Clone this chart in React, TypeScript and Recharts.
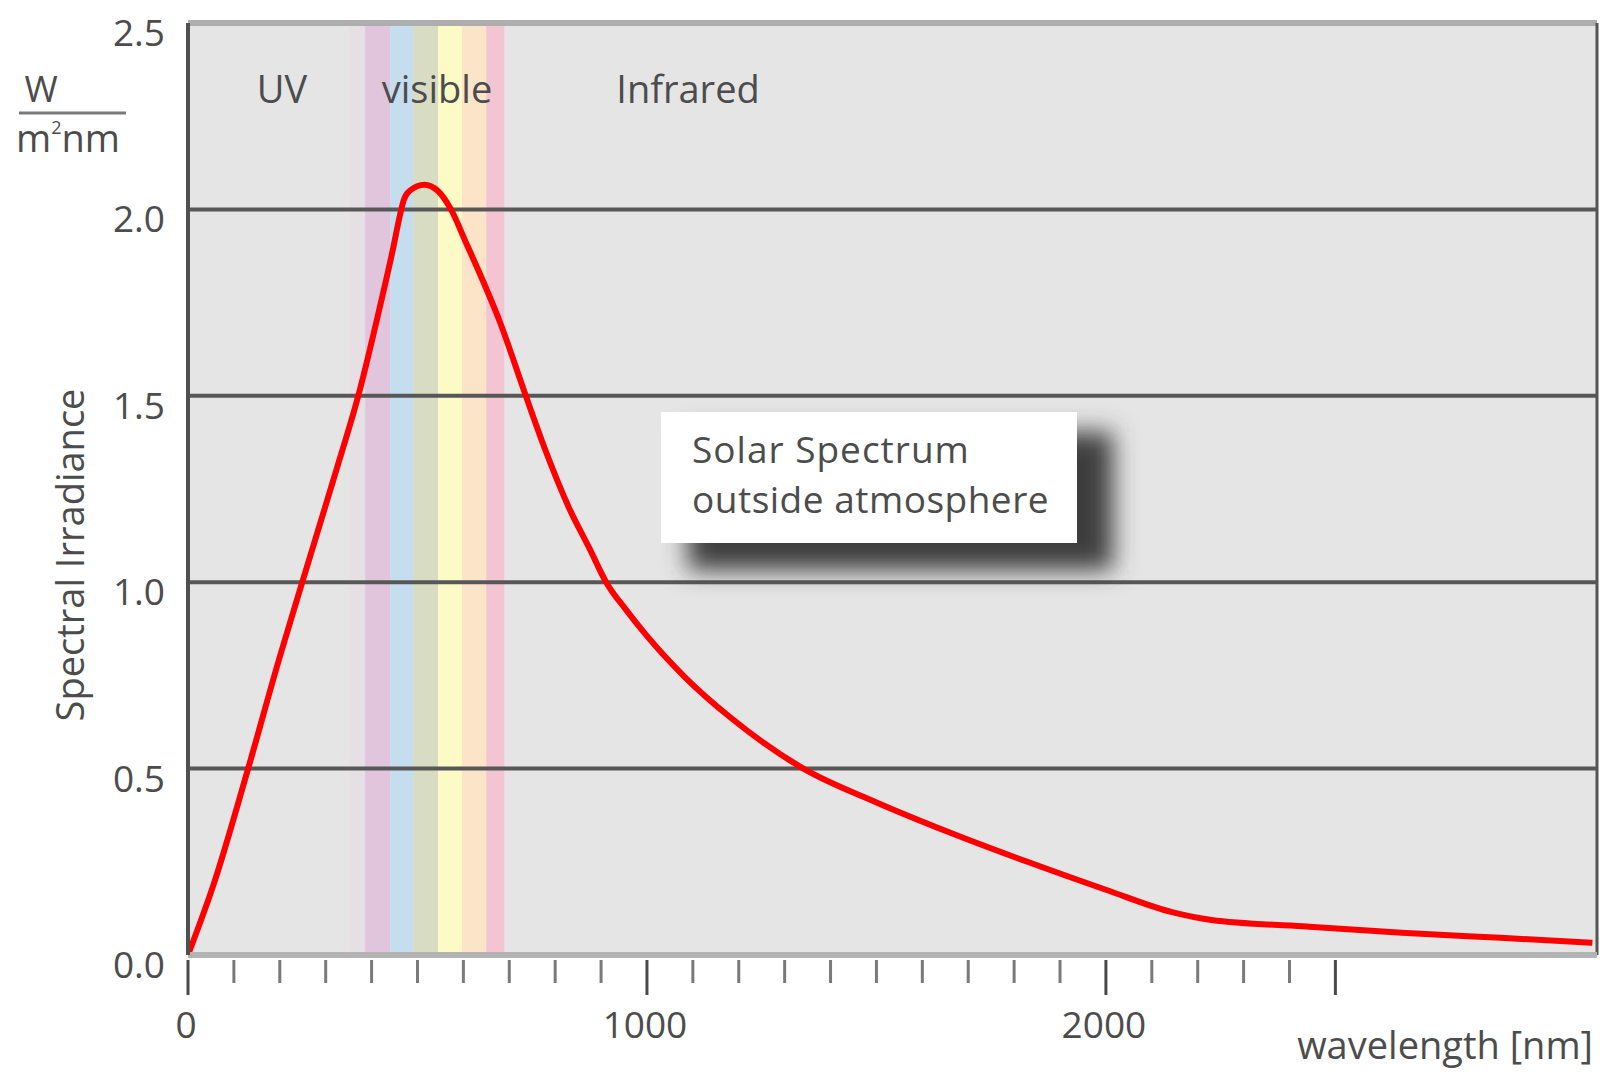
import React from 'react';
import { LineChart, Line, XAxis, YAxis, ReferenceArea, ReferenceLine } from 'recharts';

// ---- data ----
const wavelengths = [0, 56, 131, 200, 249, 323, 371, 424, 446, 461, 470, 483, 515, 544, 573, 606, 642, 679, 736, 780, 830, 875, 911, 955, 997, 1083, 1184, 1341, 1499, 1657, 1829, 2000, 2144, 2230, 2430, 2645, 2860, 3060];
const irradiance = [0, 0.19, 0.5, 0.8, 1.0, 1.3, 1.5, 1.77, 1.89, 1.98, 2.025, 2.05, 2.066, 2.05, 2.0, 1.91, 1.81, 1.7, 1.5, 1.35, 1.2, 1.09, 1.0, 0.925, 0.86, 0.745, 0.635, 0.5, 0.41, 0.33, 0.25, 0.175, 0.115, 0.094, 0.077, 0.06, 0.046, 0.033];

const visibleBandStart = [386, 441, 491, 545, 597, 650];
const visibleBandEnd = [441, 491, 545, 597, 650, 689];
const faintBandStart = [352, 689];
const faintBandEnd = [386, 704];

const xTicks = [0, 100, 200, 300, 400, 500, 600, 700, 800, 900, 1000, 1100, 1200, 1300, 1400, 1500, 1600, 1700, 1800, 1900, 2000, 2100, 2200, 2300, 2400, 2500];
const xMajorTicks = [0, 1000, 2000, 2500];
const xLabelTicks = [0, 1000, 2000];
const yTicks = [0, 0.5, 1.0, 1.5, 2.0, 2.5];
const gridValues = [0.5, 1.0, 1.5, 2.0];
const xMax = 3070;
const yMax = 2.5;

const regionLabels = ['UV', 'visible', 'Infrared'];
const calloutLines = ['Solar Spectrum', 'outside atmosphere'];

// ---- styles ----
const bandColors = ['#E0C5DC', '#C5DEEF', '#D8DCC2', '#FDFBC5', '#FCE4C8', '#F3C5D3'];
const faintColors = ['#E6E0E4', '#E8E3E8'];
const FONT = '"Open Sans", "DejaVu Sans", sans-serif';
const TEXT = '#4c4c4c';

const data = wavelengths.map((nm, i) => ({ nm, irr: irradiance[i] }));
const gridData = gridValues.map((g) => [{ nm: 0, v: g }, { nm: xMax, v: g }]);

const XTick = (props: any) => {
  const { x, y, payload } = props;
  const v = payload.value;
  const major = xMajorTicks.includes(v);
  return (
    <g>
      <line x1={x} x2={x} y1={y + 5} y2={y + (major ? 40 : 28)} stroke={major ? '#4a4a4a' : '#7a7a7a'} strokeWidth={3} />
      {xLabelTicks.includes(v) && (
        <text x={x - 2} y={y + 83} textAnchor="middle" fontFamily={FONT} fontSize={37} fill={TEXT}>
          {v}
        </text>
      )}
    </g>
  );
};

const YTick = (props: any) => {
  const { x, y, payload } = props;
  return (
    <text x={x} y={y + 23} textAnchor="end" fontFamily={FONT} fontSize={37} fill={TEXT}>
      {payload.value.toFixed(1)}
    </text>
  );
};

export default function App() {
  return (
    <div style={{ position: 'absolute', left: 0, top: 0, width: 1612, height: 1075, background: '#ffffff' }}>
      <div style={{ position: 'absolute', left: 0, top: 0 }}>
        <LineChart width={1612} height={1075} data={data} margin={{ top: 23, right: 15, bottom: 0, left: 0 }}>
          <ReferenceArea x1={0} x2={xMax} y1={0} y2={yMax} fill="#e5e5e5" fillOpacity={1} stroke="none" />
          {faintBandStart.map((s, i) => (
            <ReferenceArea key={'f' + i} x1={s} x2={faintBandEnd[i]} y1={0} y2={yMax} fill={faintColors[i]} fillOpacity={1} stroke="none" />
          ))}
          {visibleBandStart.map((s, i) => (
            <ReferenceArea key={'b' + i} x1={s} x2={visibleBandEnd[i]} y1={0} y2={yMax} fill={bandColors[i]} fillOpacity={1} stroke="none" />
          ))}
          <ReferenceLine y={yMax} stroke="#adadad" strokeWidth={6} />
          <ReferenceLine x={xMax} stroke="#555555" strokeWidth={3} />
          <XAxis
            dataKey="nm"
            type="number"
            domain={[0, xMax]}
            ticks={xTicks}
            interval={0}
            tickSize={0}
            tickMargin={0}
            tickLine={false}
            axisLine={{ stroke: '#b3b3b3', strokeWidth: 6 }}
            tick={<XTick />}
            height={120}
            allowDataOverflow
          />
          <YAxis
            type="number"
            domain={[0, yMax]}
            ticks={yTicks}
            interval={0}
            width={188}
            tickSize={0}
            tickMargin={23}
            tickLine={false}
            axisLine={{ stroke: '#505050', strokeWidth: 4 }}
            tick={<YTick />}
            allowDataOverflow
          />
          {gridData.map((d, i) => (
            <Line
              key={'grid' + i}
              data={d}
              dataKey="v"
              type="linear"
              stroke="#575757"
              strokeWidth={4}
              dot={false}
              activeDot={false}
              isAnimationActive={false}
            />
          ))}
          <Line
            type="monotone"
            dataKey="irr"
            stroke="#ff0000"
            strokeWidth={6}
            dot={false}
            activeDot={false}
            isAnimationActive={false}
          />
        </LineChart>
      </div>
      <svg width={1612} height={1075} style={{ position: 'absolute', left: 0, top: 0, pointerEvents: 'none' }}>
        <defs>
          <filter id="shadowBlur" x="-20%" y="-40%" width="140%" height="180%">
            <feGaussianBlur stdDeviation="12" />
          </filter>
        </defs>
        {/* region labels */}
        <text x={282} y={103} textAnchor="middle" fontFamily={FONT} fontSize={38} fill={TEXT}>{regionLabels[0]}</text>
        <text x={437} y={103} textAnchor="middle" fontFamily={FONT} fontSize={38} fill={TEXT}>{regionLabels[1]}</text>
        <text x={688} y={103} textAnchor="middle" fontFamily={FONT} fontSize={38} fill={TEXT}>{regionLabels[2]}</text>
        {/* callout */}
        <rect x={688} y={432} width={425} height={138} fill="#3c3c3c" filter="url(#shadowBlur)" />
        <rect x={661} y={412} width={416} height={131} fill="#ffffff" />
        <text x={692} y={463} fontFamily={FONT} fontSize={37} fill={TEXT} letterSpacing={1}>{calloutLines[0]}</text>
        <text x={692} y={513} fontFamily={FONT} fontSize={37} fill={TEXT} letterSpacing={0.5}>{calloutLines[1]}</text>
        {/* unit */}
        <text x={41} y={102} textAnchor="middle" fontFamily={FONT} fontSize={36} fill={TEXT}>W</text>
        <line x1={19} x2={126} y1={113} y2={113} stroke="#7a7a7a" strokeWidth={3} />
        <text x={16} y={152} fontFamily={FONT} fontSize={38} fill={TEXT}>
          m<tspan fontSize={18} dy={-18}>2</tspan><tspan dy={18}>nm</tspan>
        </text>
        {/* axis titles */}
        <text
          x={0}
          y={0}
          transform="translate(84,555) rotate(-90)"
          textAnchor="middle"
          fontFamily={FONT}
          fontSize={38}
          fill={TEXT}
        >
          Spectral Irradiance
        </text>
        <text x={1593} y={1059} textAnchor="end" fontFamily={FONT} fontSize={38} fill={TEXT}>wavelength [nm]</text>
      </svg>
    </div>
  );
}
